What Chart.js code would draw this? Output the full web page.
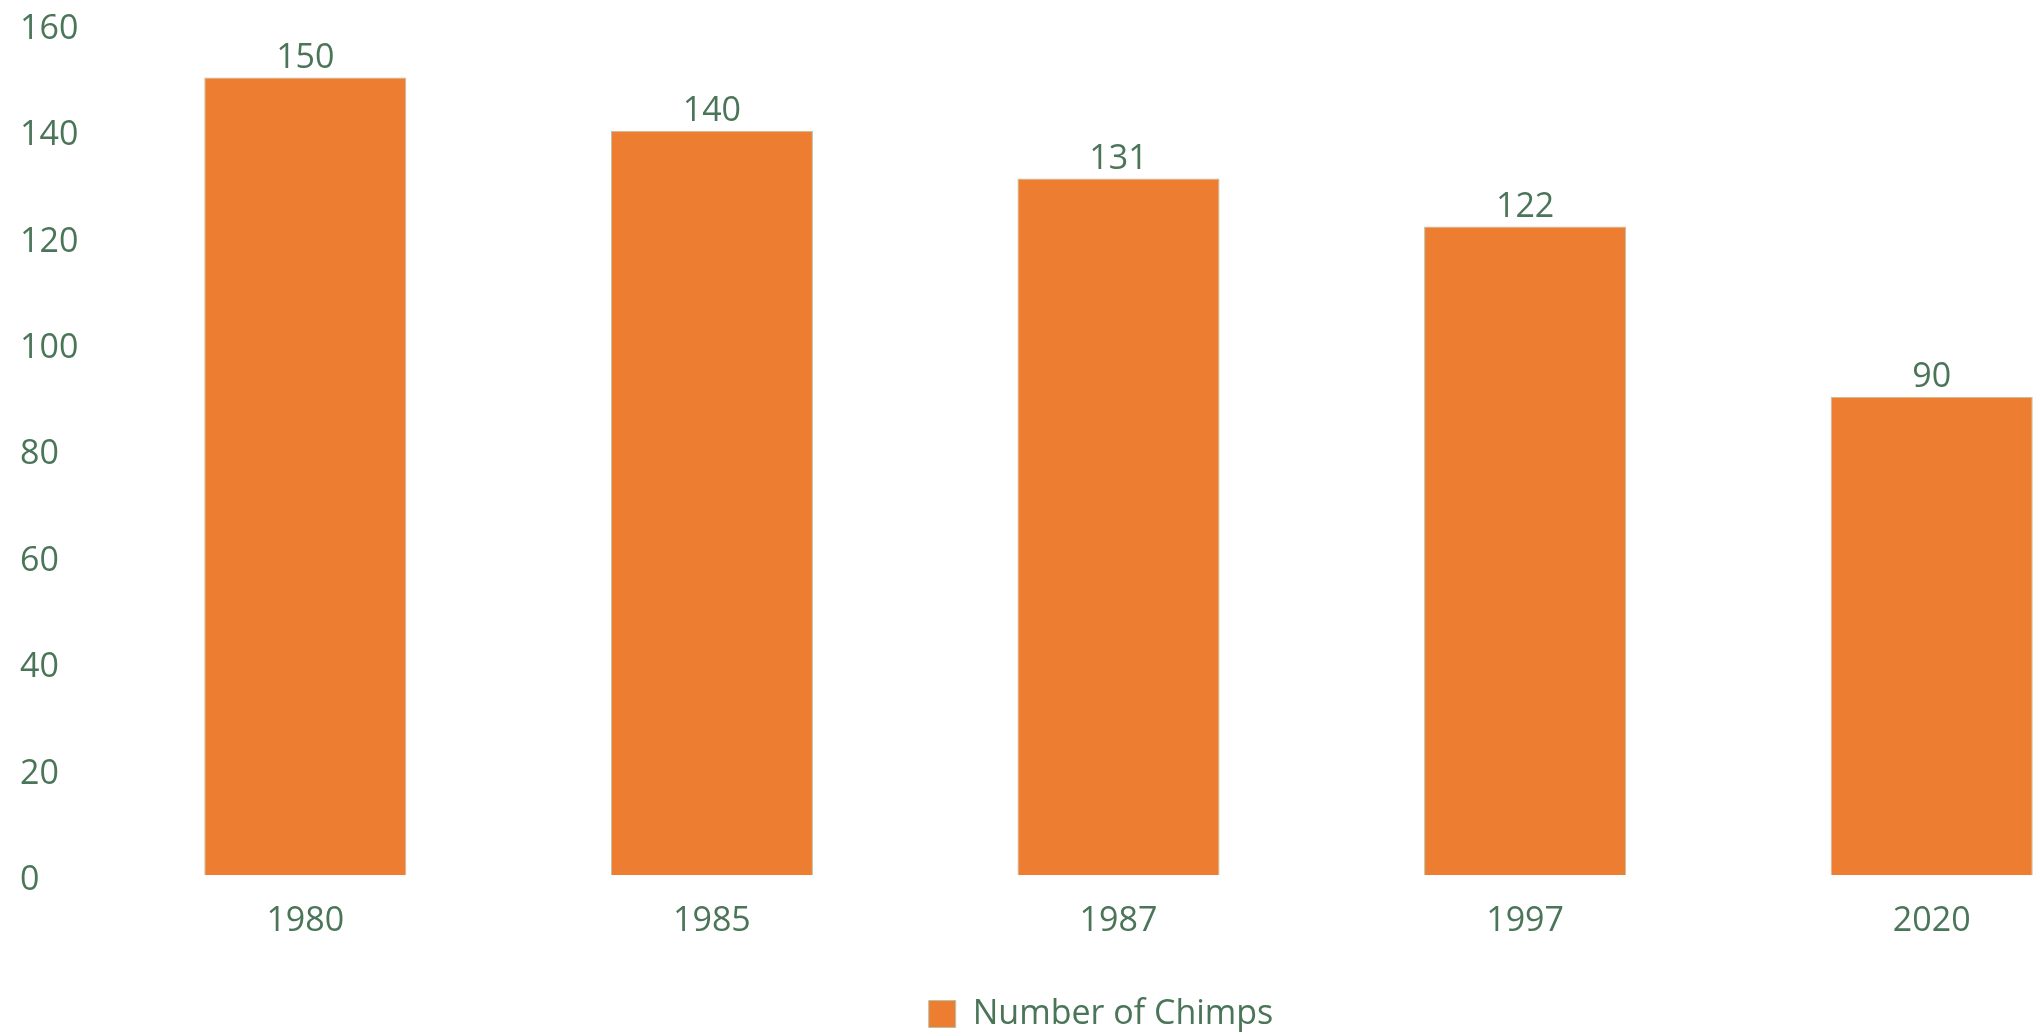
<!DOCTYPE html>
<html>
<head>
<meta charset="utf-8">
<script src="https://cdn.jsdelivr.net/npm/chart.js@4/dist/chart.umd.min.js"></script>
<style>
    html, body { margin: 0; padding: 0; background: #ffffff; overflow: hidden; }
    #wrap { width: 2182px; height: 1041px; position: relative; }
</style>
</head>
<body>
<div id="wrap"><canvas id="graph1"></canvas></div>
<script>
const years = ['1980', '1985', '1987', '1997', '2020'];
const chimps = [150, 140, 131, 122, 90];
const seriesName = 'Number of Chimps';
const yTicks = [0, 20, 40, 60, 80, 100, 120, 140, 160];

const textColor = '#4a7558';
const barColor = '#ed7d31';
const fontSize = 34;

// writes each bar's value just above it
const valueLabels = {
    id: 'valueLabels',
    afterDatasetsDraw(chart) {
        const ctx = chart.ctx;
        const meta = chart.getDatasetMeta(0);
        ctx.save();
        ctx.font = fontSize + 'px "Open Sans"';
        ctx.fillStyle = textColor;
        ctx.textAlign = 'center';
        ctx.textBaseline = 'bottom';
        meta.data.forEach(function (bar, i) {
            ctx.fillText(chart.data.datasets[0].data[i], bar.x, bar.y - 2);
        });
        ctx.restore();
    }
};

function mkGraph1() {
    const ctx = document.getElementById('graph1');
    const data = {
        "labels": years,
        "datasets": [
            {
                "label": seriesName,
                "backgroundColor": barColor,
                "borderColor": "#b9c2a4",
                "borderWidth": 1,
                "data": chimps,
                "categoryPercentage": 1.0,
                "barPercentage": 0.497
            }
        ]
    };
    const options = {
        responsive: true,
        maintainAspectRatio: false,
        animation: false,
        layout: { padding: { top: 0, left: 20, right: 0, bottom: 0 } },
        plugins: {
            tooltip: { enabled: false },
            legend: {
                position: 'bottom',
                labels: {
                    color: textColor,
                    font: { family: 'Open Sans', size: fontSize },
                    boxWidth: 27,
                    boxHeight: 27,
                    padding: 16
                }
            }
        },
        scales: {
            x: {
                grid: { display: false, drawTicks: false },
                border: { display: false },
                ticks: {
                    color: textColor,
                    font: { family: 'Open Sans', size: fontSize },
                    padding: 26
                },
                // extra gap between the year labels and the legend
                afterFit(scale) { scale.height += 13; }
            },
            y: {
                min: yTicks[0],
                max: yTicks[yTicks.length - 1],
                grid: { display: false, drawTicks: false },
                border: { display: false },
                ticks: {
                    stepSize: yTicks[1] - yTicks[0],
                    color: textColor,
                    font: { family: 'Open Sans', size: fontSize },
                    padding: 4,
                    labelOffset: 5,
                    crossAlign: 'far'
                },
                afterFit(scale) { scale.width = 82; }
            },
            // empty strip on the right, keeps the plot wider than the page
            yRight: {
                position: 'right',
                grid: { display: false, drawTicks: false },
                border: { display: false },
                ticks: { display: false },
                afterFit(scale) { scale.width = 47; }
            }
        }
    };

    new Chart(ctx, {
        type: 'bar',
        data: data,
        options: options,
        plugins: [valueLabels]
    });
}

mkGraph1();
</script>
</body>
</html>
